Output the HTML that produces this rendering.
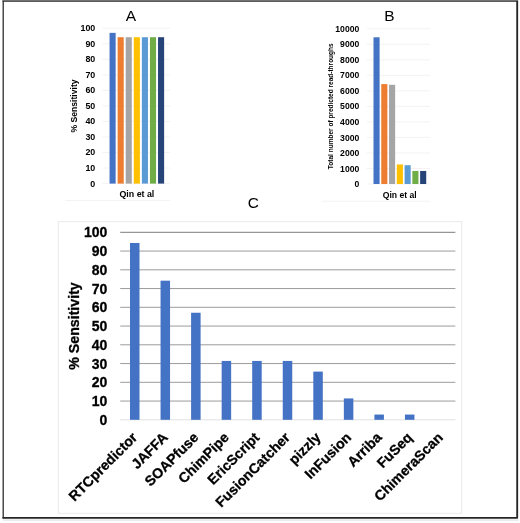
<!DOCTYPE html>
<html><head><meta charset="utf-8"><title>Figure</title>
<style>
html,body{margin:0;padding:0;background:#fff;}
body{width:520px;height:523px;overflow:hidden;}
svg{display:block;font-family:"Liberation Sans",sans-serif;filter:blur(0.35px);}
.b{font-weight:bold;}
</style></head><body>
<svg width="520" height="523" viewBox="0 0 520 523">
<rect x="0" y="0" width="520" height="523" fill="#fff"/>
<g fill="none" stroke="#262626" stroke-linecap="round" stroke-linejoin="round">
<path d="M3.2 0.8 V517.9" stroke-width="1.25"/>
<path d="M3.2 0.75 H517.2" stroke-width="1.8"/>
<path d="M517.2 0.8 V517.85 H3.2" stroke-width="1.85"/>
</g>
<rect x="0" y="0" width="520" height="1" fill="#fff" opacity="0.35"/>
<rect x="3" y="519.3" width="516" height="1.6" fill="#e9e9e9"/>
<g id="A">
<text x="131" y="21" font-size="15.5" text-anchor="middle" fill="#000">A</text>
<line x1="102.5" x2="170" y1="28.20" y2="28.20" stroke="#f0f0f0" stroke-width="0.8"/>
<text class="b" x="95.3" y="31.10" font-size="8.9" text-anchor="end" fill="#000">100</text>
<line x1="102.5" x2="170" y1="43.74" y2="43.74" stroke="#f0f0f0" stroke-width="0.8"/>
<text class="b" x="95.3" y="46.64" font-size="8.9" text-anchor="end" fill="#000">90</text>
<line x1="102.5" x2="170" y1="59.28" y2="59.28" stroke="#f0f0f0" stroke-width="0.8"/>
<text class="b" x="95.3" y="62.18" font-size="8.9" text-anchor="end" fill="#000">80</text>
<line x1="102.5" x2="170" y1="74.82" y2="74.82" stroke="#f0f0f0" stroke-width="0.8"/>
<text class="b" x="95.3" y="77.72" font-size="8.9" text-anchor="end" fill="#000">70</text>
<line x1="102.5" x2="170" y1="90.36" y2="90.36" stroke="#f0f0f0" stroke-width="0.8"/>
<text class="b" x="95.3" y="93.26" font-size="8.9" text-anchor="end" fill="#000">60</text>
<line x1="102.5" x2="170" y1="105.90" y2="105.90" stroke="#f0f0f0" stroke-width="0.8"/>
<text class="b" x="95.3" y="108.80" font-size="8.9" text-anchor="end" fill="#000">50</text>
<line x1="102.5" x2="170" y1="121.44" y2="121.44" stroke="#f0f0f0" stroke-width="0.8"/>
<text class="b" x="95.3" y="124.34" font-size="8.9" text-anchor="end" fill="#000">40</text>
<line x1="102.5" x2="170" y1="136.98" y2="136.98" stroke="#f0f0f0" stroke-width="0.8"/>
<text class="b" x="95.3" y="139.88" font-size="8.9" text-anchor="end" fill="#000">30</text>
<line x1="102.5" x2="170" y1="152.52" y2="152.52" stroke="#f0f0f0" stroke-width="0.8"/>
<text class="b" x="95.3" y="155.42" font-size="8.9" text-anchor="end" fill="#000">20</text>
<line x1="102.5" x2="170" y1="168.06" y2="168.06" stroke="#f0f0f0" stroke-width="0.8"/>
<text class="b" x="95.3" y="170.96" font-size="8.9" text-anchor="end" fill="#000">10</text>
<line x1="102.5" x2="170" y1="183.60" y2="183.60" stroke="#f0f0f0" stroke-width="0.8"/>
<text class="b" x="95.3" y="186.50" font-size="8.9" text-anchor="end" fill="#000">0</text>
<rect x="109.55" y="32.86" width="6.1" height="150.74" fill="#4472c4"/>
<rect x="117.63" y="37.21" width="6.1" height="146.39" fill="#ed7d31"/>
<rect x="125.71" y="37.21" width="6.1" height="146.39" fill="#a5a5a5"/>
<rect x="133.79" y="37.21" width="6.1" height="146.39" fill="#ffc000"/>
<rect x="141.87" y="37.21" width="6.1" height="146.39" fill="#5b9bd5"/>
<rect x="149.95" y="37.21" width="6.1" height="146.39" fill="#70ad47"/>
<rect x="158.03" y="37.21" width="6.1" height="146.39" fill="#264478"/>
<text class="b" x="136.9" y="196.7" font-size="8.85" text-anchor="middle" fill="#000">Qin et al</text>
<text class="b" transform="translate(77.4,106) rotate(-90)" font-size="8.65" text-anchor="middle" fill="#000">% Sensitivity</text>
<line x1="65" x2="170" y1="200.5" y2="200.5" stroke="#f0f0f0" stroke-width="0.8"/>
</g>
<g id="B">
<text x="389.3" y="21" font-size="15.5" text-anchor="middle" fill="#000">B</text>
<line x1="367" x2="430" y1="28.75" y2="28.75" stroke="#f0f0f0" stroke-width="0.8"/>
<text class="b" x="359.3" y="31.85" font-size="8.65" text-anchor="end" fill="#000">10000</text>
<line x1="367" x2="430" y1="44.27" y2="44.27" stroke="#f0f0f0" stroke-width="0.8"/>
<text class="b" x="359.3" y="47.38" font-size="8.65" text-anchor="end" fill="#000">9000</text>
<line x1="367" x2="430" y1="59.80" y2="59.80" stroke="#f0f0f0" stroke-width="0.8"/>
<text class="b" x="359.3" y="62.90" font-size="8.65" text-anchor="end" fill="#000">8000</text>
<line x1="367" x2="430" y1="75.33" y2="75.33" stroke="#f0f0f0" stroke-width="0.8"/>
<text class="b" x="359.3" y="78.42" font-size="8.65" text-anchor="end" fill="#000">7000</text>
<line x1="367" x2="430" y1="90.85" y2="90.85" stroke="#f0f0f0" stroke-width="0.8"/>
<text class="b" x="359.3" y="93.95" font-size="8.65" text-anchor="end" fill="#000">6000</text>
<line x1="367" x2="430" y1="106.38" y2="106.38" stroke="#f0f0f0" stroke-width="0.8"/>
<text class="b" x="359.3" y="109.47" font-size="8.65" text-anchor="end" fill="#000">5000</text>
<line x1="367" x2="430" y1="121.90" y2="121.90" stroke="#f0f0f0" stroke-width="0.8"/>
<text class="b" x="359.3" y="125.00" font-size="8.65" text-anchor="end" fill="#000">4000</text>
<line x1="367" x2="430" y1="137.43" y2="137.43" stroke="#f0f0f0" stroke-width="0.8"/>
<text class="b" x="359.3" y="140.53" font-size="8.65" text-anchor="end" fill="#000">3000</text>
<line x1="367" x2="430" y1="152.95" y2="152.95" stroke="#f0f0f0" stroke-width="0.8"/>
<text class="b" x="359.3" y="156.05" font-size="8.65" text-anchor="end" fill="#000">2000</text>
<line x1="367" x2="430" y1="168.47" y2="168.47" stroke="#f0f0f0" stroke-width="0.8"/>
<text class="b" x="359.3" y="171.57" font-size="8.65" text-anchor="end" fill="#000">1000</text>
<line x1="367" x2="430" y1="184.00" y2="184.00" stroke="#f0f0f0" stroke-width="0.8"/>
<text class="b" x="359.3" y="187.10" font-size="8.65" text-anchor="end" fill="#000">0</text>
<rect x="373.50" y="37.29" width="6.1" height="146.71" fill="#4472c4"/>
<rect x="381.27" y="84.10" width="6.1" height="99.90" fill="#ed7d31"/>
<rect x="389.04" y="84.80" width="6.1" height="99.20" fill="#a5a5a5"/>
<rect x="396.81" y="164.47" width="6.1" height="19.53" fill="#ffc000"/>
<rect x="404.58" y="165.21" width="6.1" height="18.79" fill="#5b9bd5"/>
<rect x="412.35" y="170.96" width="6.1" height="13.04" fill="#70ad47"/>
<rect x="420.12" y="170.96" width="6.1" height="13.04" fill="#264478"/>
<text class="b" x="399.7" y="197.7" font-size="8.65" text-anchor="middle" fill="#000">Qin et al</text>
<text class="b" transform="translate(332.7,106.25) rotate(-90)" font-size="6.52" text-anchor="middle" fill="#000">Total number of predicted read-throughs</text>
<line x1="322" x2="430" y1="201.2" y2="201.2" stroke="#f0f0f0" stroke-width="0.8"/>
</g>
<g id="C">
<text x="253.4" y="207.9" font-size="15.4" text-anchor="middle" fill="#000">C</text>
<rect x="58.4" y="221.6" width="403.3" height="291.7" fill="none" stroke="#e9e9e9" stroke-width="0.9"/>
<line x1="120.2" x2="455.4" y1="232.30" y2="232.30" stroke="#7c7c7c" stroke-width="1"/>
<text class="b" x="107.3" y="237.30" font-size="14" text-anchor="end" fill="#000" stroke="#000" stroke-width="0.3">100</text>
<line x1="120.2" x2="455.4" y1="251.05" y2="251.05" stroke="#9c9c9c" stroke-width="1"/>
<text class="b" x="107.3" y="256.05" font-size="14" text-anchor="end" fill="#000" stroke="#000" stroke-width="0.3">90</text>
<line x1="120.2" x2="455.4" y1="269.80" y2="269.80" stroke="#9c9c9c" stroke-width="1"/>
<text class="b" x="107.3" y="274.80" font-size="14" text-anchor="end" fill="#000" stroke="#000" stroke-width="0.3">80</text>
<line x1="120.2" x2="455.4" y1="288.55" y2="288.55" stroke="#9c9c9c" stroke-width="1"/>
<text class="b" x="107.3" y="293.55" font-size="14" text-anchor="end" fill="#000" stroke="#000" stroke-width="0.3">70</text>
<line x1="120.2" x2="455.4" y1="307.30" y2="307.30" stroke="#9c9c9c" stroke-width="1"/>
<text class="b" x="107.3" y="312.30" font-size="14" text-anchor="end" fill="#000" stroke="#000" stroke-width="0.3">60</text>
<line x1="120.2" x2="455.4" y1="326.05" y2="326.05" stroke="#9c9c9c" stroke-width="1"/>
<text class="b" x="107.3" y="331.05" font-size="14" text-anchor="end" fill="#000" stroke="#000" stroke-width="0.3">50</text>
<line x1="120.2" x2="455.4" y1="344.80" y2="344.80" stroke="#9c9c9c" stroke-width="1"/>
<text class="b" x="107.3" y="349.80" font-size="14" text-anchor="end" fill="#000" stroke="#000" stroke-width="0.3">40</text>
<line x1="120.2" x2="455.4" y1="363.55" y2="363.55" stroke="#9c9c9c" stroke-width="1"/>
<text class="b" x="107.3" y="368.55" font-size="14" text-anchor="end" fill="#000" stroke="#000" stroke-width="0.3">30</text>
<line x1="120.2" x2="455.4" y1="382.30" y2="382.30" stroke="#9c9c9c" stroke-width="1"/>
<text class="b" x="107.3" y="387.30" font-size="14" text-anchor="end" fill="#000" stroke="#000" stroke-width="0.3">20</text>
<line x1="120.2" x2="455.4" y1="401.05" y2="401.05" stroke="#9c9c9c" stroke-width="1"/>
<text class="b" x="107.3" y="406.05" font-size="14" text-anchor="end" fill="#000" stroke="#000" stroke-width="0.3">10</text>
<line x1="120.2" x2="455.4" y1="419.80" y2="419.80" stroke="#e2e2e2" stroke-width="1"/>
<text class="b" x="107.3" y="424.80" font-size="14" text-anchor="end" fill="#000" stroke="#000" stroke-width="0.3">0</text>
<rect x="130.00" y="242.99" width="9.5" height="176.81" fill="#4472c4"/>
<text class="b" transform="translate(138.25,438.30) rotate(-45)" font-size="14.1" text-anchor="end" fill="#000" stroke="#000" stroke-width="0.3">RTCpredictor</text>
<rect x="160.55" y="280.68" width="9.5" height="139.12" fill="#4472c4"/>
<text class="b" transform="translate(168.80,438.30) rotate(-45)" font-size="14.1" text-anchor="end" fill="#000" stroke="#000" stroke-width="0.3">JAFFA</text>
<rect x="191.10" y="312.74" width="9.5" height="107.06" fill="#4472c4"/>
<text class="b" transform="translate(199.35,438.30) rotate(-45)" font-size="14.1" text-anchor="end" fill="#000" stroke="#000" stroke-width="0.3">SOAPfuse</text>
<rect x="221.65" y="360.93" width="9.5" height="58.88" fill="#4472c4"/>
<text class="b" transform="translate(229.90,438.30) rotate(-45)" font-size="14.1" text-anchor="end" fill="#000" stroke="#000" stroke-width="0.3">ChimPipe</text>
<rect x="252.20" y="360.93" width="9.5" height="58.88" fill="#4472c4"/>
<text class="b" transform="translate(260.45,438.30) rotate(-45)" font-size="14.1" text-anchor="end" fill="#000" stroke="#000" stroke-width="0.3">EricScript</text>
<rect x="282.75" y="360.93" width="9.5" height="58.88" fill="#4472c4"/>
<text class="b" transform="translate(291.00,438.30) rotate(-45)" font-size="14.1" text-anchor="end" fill="#000" stroke="#000" stroke-width="0.3">FusionCatcher</text>
<rect x="313.30" y="371.61" width="9.5" height="48.19" fill="#4472c4"/>
<text class="b" transform="translate(321.55,438.30) rotate(-45)" font-size="14.1" text-anchor="end" fill="#000" stroke="#000" stroke-width="0.3">pizzly</text>
<rect x="343.85" y="398.43" width="9.5" height="21.38" fill="#4472c4"/>
<text class="b" transform="translate(352.10,438.30) rotate(-45)" font-size="14.1" text-anchor="end" fill="#000" stroke="#000" stroke-width="0.3">InFusion</text>
<rect x="374.40" y="414.55" width="9.5" height="5.25" fill="#4472c4"/>
<text class="b" transform="translate(382.65,438.30) rotate(-45)" font-size="14.1" text-anchor="end" fill="#000" stroke="#000" stroke-width="0.3">Arriba</text>
<rect x="404.95" y="414.55" width="9.5" height="5.25" fill="#4472c4"/>
<text class="b" transform="translate(413.20,438.30) rotate(-45)" font-size="14.1" text-anchor="end" fill="#000" stroke="#000" stroke-width="0.3">FuSeq</text>
<text class="b" transform="translate(443.75,438.30) rotate(-45)" font-size="14.1" text-anchor="end" fill="#000" stroke="#000" stroke-width="0.3">ChimeraScan</text>
<text class="b" transform="translate(78.5,326) rotate(-90)" font-size="14.2" text-anchor="middle" fill="#000" stroke="#000" stroke-width="0.3">% Sensitivity</text>
</g>
</svg>
</body></html>
